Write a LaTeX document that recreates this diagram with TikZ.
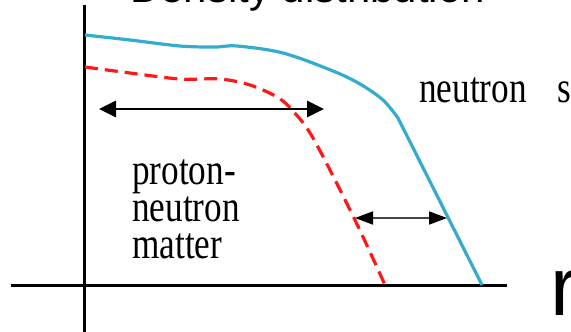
\documentclass[tikz,border=0pt]{standalone}
\usepackage{fontspec}
\setmainfont{Liberation Serif}
\setsansfont{Liberation Sans}
\newfontfamily\slideserif[FakeStretch=0.8]{Liberation Serif}
\usetikzlibrary{
  arrows.meta              % triangle arrowheads
}

\definecolor{skinblue}{RGB}{52,172,206}
\definecolor{corered}{RGB}{255,24,24}
\definecolor{gapgray}{RGB}{70,70,70}

\begin{document}
\begin{tikzpicture}[
    x=1pt, y=-1pt,
    axisline/.style={line width=3pt, black},
    profile/.style={line width=3.2pt, line join=round},
    corewidth/.style={line width=2.8pt, black,
                      {Triangle[length=17pt,width=16pt]}-{Triangle[length=17pt,width=16pt]}},
    skinwidth/.style={line width=1.6pt, gapgray,
                      {Triangle[length=18pt,width=13pt,color=black]}-{Triangle[length=18pt,width=13pt,color=black]}},
    slidetext/.style={font=\slideserif\fontsize{44}{37}\selectfont,
                      inner sep=0pt, align=left, anchor=base west},
    sanstext/.style={font=\sffamily, inner sep=0pt, anchor=base west}
]
  \clip (0,0) rectangle (571,332);

  % axes
  \coordinate (yaxtop) at (84,5);
  \coordinate (yaxbot) at (84,340);
  \coordinate (xaxl)   at (11,285);
  \coordinate (xaxr)   at (507,285);
  \draw[axisline] (yaxbot) -- (yaxtop);
  \draw[axisline] (xaxl) -- (xaxr);

  % density profiles
  \draw[profile, skinblue]
       plot[smooth, tension=0.55] coordinates {(85,35) (130,40) (180,46) (215,47) (237,46)
            (283,53) (333,71) (360,84) (383,100) (398,118)} -- (482,285);
  \draw[profile, corered, dash pattern=on 13pt off 7pt]
       plot[smooth, tension=0.55] coordinates {(85,67) (130,73) (180,79) (220,79) (250,85)
            (277,97) (292,110) (313,138) (354,218) (385,285)};

  % widths
  \coordinate (coreL) at (99,109);
  \coordinate (coreR) at (324,109);
  \coordinate (skinL) at (355,218);
  \coordinate (skinR) at (447,218);
  \draw[corewidth] (coreL) -- (coreR);
  \draw[skinwidth] (skinL) -- (skinR);

  % labels
  \node[sanstext, font=\sffamily\fontsize{42}{42}\selectfont] (title) at (130,2)
        {Density distribution};
  \node[sanstext, font=\sffamily\fontsize{83}{83}\selectfont] (raxis) at (550,315) {r};
  \node[slidetext] (skinlbl) at (419,102) {neutron\hspace{31pt}s};
  \node[slidetext] (corelbl) at (132,258) {proton-\\neutron\\matter};
\end{tikzpicture}
\end{document}
